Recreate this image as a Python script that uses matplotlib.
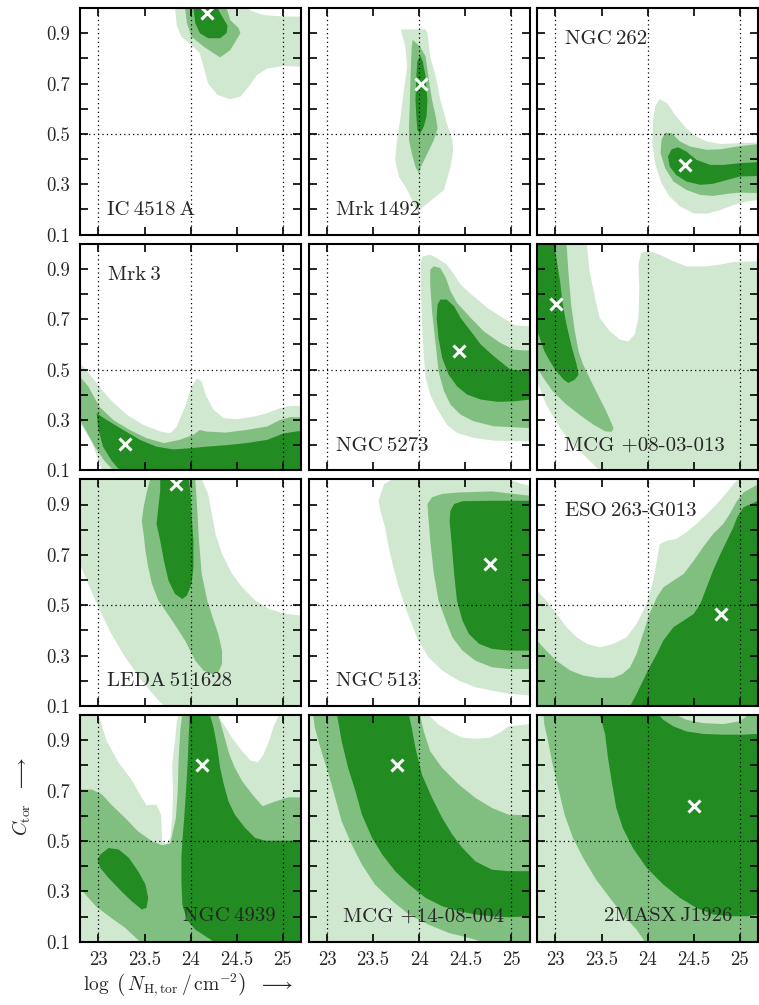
import numpy as np
import matplotlib.pyplot as plt

plt.rcParams['font.family'] = ['cmr10', 'DejaVu Serif']
plt.rcParams['mathtext.fontset'] = 'cm'
plt.rcParams['axes.unicode_minus'] = False

c_light = '#d0e7d0'
c_mid = '#80bf80'
c_dark = '#228b22'
c_text = '#262626'

# contour outlines (log NH, C_tor)
ic4518_light = [(23.83, 1.0), (23.85, 0.93), (23.90, 0.886), (24.01, 0.853), (24.10, 0.82), (24.14, 0.767),
                (24.19, 0.70), (24.29, 0.655), (24.43, 0.638), (24.54, 0.648), (24.63, 0.688), (24.72, 0.734),
                (24.83, 0.76), (25.01, 0.77), (25.2, 0.767), (25.2, 0.966), (25.01, 0.966), (24.79, 0.972),
                (24.65, 0.99), (24.61, 1.0)]
ic4518_mid = [(23.94, 1.0), (23.96, 0.94), (24.01, 0.886), (24.14, 0.847), (24.25, 0.82), (24.32, 0.804),
              (24.43, 0.833), (24.54, 0.90), (24.52, 0.92), (24.43, 0.952), (24.39, 1.0)]
ic4518_dark = [(24.03, 1.0), (24.05, 0.94), (24.10, 0.90), (24.19, 0.88), (24.32, 0.88), (24.39, 0.90),
               (24.40, 0.93), (24.32, 0.98), (24.29, 1.0)]

mrk1492_light = [(23.80, 0.915), (23.85, 0.847), (23.87, 0.767), (23.83, 0.661), (23.80, 0.569), (23.76, 0.476),
                 (23.74, 0.397), (23.78, 0.331), (23.87, 0.278), (23.94, 0.225), (23.98, 0.192), (24.05, 0.212),
                 (24.16, 0.245), (24.27, 0.278), (24.30, 0.317), (24.34, 0.37), (24.37, 0.436), (24.36, 0.476),
                 (24.30, 0.542), (24.23, 0.635), (24.18, 0.728), (24.12, 0.807), (24.09, 0.90), (24.07, 0.915)]
mrk1492_mid = [(23.93, 0.873), (24.01, 0.847), (24.07, 0.807), (24.10, 0.728), (24.14, 0.635), (24.18, 0.569),
               (24.20, 0.522), (24.16, 0.476), (24.09, 0.423), (24.02, 0.370), (24.00, 0.341), (23.96, 0.37),
               (23.92, 0.423), (23.89, 0.476), (23.89, 0.529), (23.90, 0.635), (23.91, 0.767), (23.92, 0.847)]
mrk1492_dark = [(24.01, 0.813), (24.04, 0.787), (24.07, 0.728), (24.09, 0.635), (24.08, 0.569), (24.05, 0.529),
                (24.01, 0.50), (23.98, 0.516), (23.97, 0.569), (23.96, 0.635), (23.97, 0.728), (23.98, 0.787)]

ngc262_light = [(24.08, 0.608), (24.13, 0.638), (24.21, 0.622), (24.31, 0.569), (24.42, 0.522), (24.53, 0.489),
                (24.64, 0.47), (24.79, 0.46), (24.97, 0.463), (25.2, 0.466), (25.2, 0.238), (25.07, 0.231),
                (24.93, 0.218), (24.79, 0.198), (24.64, 0.183), (24.50, 0.185), (24.35, 0.212), (24.24, 0.251),
                (24.15, 0.304), (24.08, 0.384), (24.05, 0.463), (24.06, 0.556)]
ngc262_mid = [(24.15, 0.476), (24.19, 0.505), (24.26, 0.503), (24.35, 0.47), (24.46, 0.45), (24.64, 0.437),
              (24.79, 0.439), (24.97, 0.45), (25.2, 0.46), (25.2, 0.265), (25.0, 0.267), (24.86, 0.262),
              (24.71, 0.254), (24.57, 0.258), (24.42, 0.278), (24.28, 0.311), (24.19, 0.364), (24.14, 0.423)]
ngc262_dark = [(24.22, 0.41), (24.26, 0.439), (24.33, 0.447), (24.42, 0.43), (24.53, 0.397), (24.68, 0.377),
               (24.82, 0.377), (25.0, 0.384), (25.2, 0.388), (25.2, 0.333), (25.0, 0.331), (24.86, 0.317),
               (24.71, 0.302), (24.57, 0.298), (24.42, 0.311), (24.31, 0.337), (24.24, 0.37)]

mrk3_light = [(22.8, 0.525), (22.87, 0.499), (22.98, 0.446), (23.13, 0.38), (23.31, 0.32), (23.49, 0.28),
              (23.67, 0.254), (23.78, 0.247), (23.85, 0.274), (23.94, 0.353), (24.01, 0.433), (24.07, 0.466),
              (24.12, 0.452), (24.17, 0.393), (24.25, 0.34), (24.36, 0.307), (24.50, 0.303), (24.68, 0.313),
              (24.83, 0.327), (24.97, 0.347), (25.08, 0.356), (25.2, 0.356), (25.2, 0.1), (23.04, 0.1),
              (23.0, 0.14), (22.93, 0.21), (22.85, 0.26), (22.8, 0.287)]
mrk3_mid = [(22.8, 0.472), (22.89, 0.433), (23.01, 0.353), (23.16, 0.30), (23.34, 0.26), (23.52, 0.228),
            (23.71, 0.208), (23.88, 0.221), (24.03, 0.241), (24.10, 0.26), (24.17, 0.254), (24.38, 0.25),
            (24.60, 0.26), (24.83, 0.274), (24.97, 0.30), (25.08, 0.311), (25.2, 0.311), (25.2, 0.1),
            (23.16, 0.1), (23.06, 0.14), (22.96, 0.194), (22.87, 0.254), (22.8, 0.30)]
mrk3_dark = [(22.98, 0.327), (23.09, 0.30), (23.27, 0.26), (23.45, 0.221), (23.63, 0.194), (23.81, 0.183),
             (24.00, 0.188), (24.17, 0.194), (24.39, 0.20), (24.60, 0.208), (24.83, 0.221), (25.01, 0.247),
             (25.2, 0.257), (25.2, 0.1), (23.23, 0.1), (23.14, 0.14), (23.05, 0.194), (23.0, 0.26)]

ngc5273_light = [(24.02, 0.93), (24.04, 0.95), (24.12, 0.956), (24.19, 0.943), (24.30, 0.917), (24.38, 0.877),
                 (24.45, 0.837), (24.59, 0.791), (24.74, 0.745), (24.88, 0.712), (25.03, 0.676), (25.2, 0.672),
                 (25.2, 0.216), (25.03, 0.216), (24.81, 0.218), (24.59, 0.229), (24.41, 0.249), (24.30, 0.282),
                 (24.19, 0.348), (24.12, 0.40), (24.07, 0.467), (24.05, 0.56), (24.03, 0.692), (24.02, 0.824)]
ngc5273_mid = [(24.12, 0.897), (24.16, 0.91), (24.23, 0.903), (24.29, 0.864), (24.34, 0.811), (24.41, 0.765),
               (24.56, 0.705), (24.70, 0.652), (24.88, 0.606), (25.03, 0.579), (25.2, 0.575), (25.2, 0.268),
               (25.03, 0.271), (24.81, 0.275), (24.59, 0.295), (24.45, 0.321), (24.34, 0.361), (24.27, 0.414),
               (24.21, 0.493), (24.18, 0.599), (24.14, 0.731), (24.12, 0.837)]
ngc5273_dark = [(24.20, 0.758), (24.23, 0.778), (24.30, 0.778), (24.38, 0.751), (24.45, 0.705), (24.56, 0.652),
                (24.67, 0.599), (24.81, 0.553), (24.99, 0.50), (25.2, 0.493), (25.2, 0.381), (25.03, 0.374),
                (24.85, 0.372), (24.67, 0.381), (24.52, 0.401), (24.41, 0.434), (24.32, 0.48), (24.25, 0.546),
                (24.21, 0.626), (24.19, 0.705)]

mcg08_light = [(22.8, 1.0), (23.34, 1.0), (23.37, 0.89), (23.43, 0.784), (23.48, 0.705), (23.59, 0.652),
               (23.70, 0.619), (23.79, 0.612), (23.86, 0.639), (23.90, 0.705), (23.91, 0.824), (23.90, 0.917),
               (23.93, 0.963), (24.01, 0.972), (24.13, 0.956), (24.28, 0.93), (24.42, 0.91), (24.64, 0.91),
               (24.79, 0.917), (24.93, 0.927), (25.2, 0.93), (25.2, 0.1), (23.48, 0.1), (23.34, 0.149),
               (23.19, 0.202), (23.05, 0.268), (22.90, 0.361), (22.8, 0.454)]
mcg08_mid = [(22.8, 1.0), (23.12, 1.0), (23.14, 0.89), (23.17, 0.758), (23.21, 0.652), (23.25, 0.573),
             (23.30, 0.52), (23.37, 0.467), (23.46, 0.40), (23.55, 0.335), (23.63, 0.268), (23.61, 0.253),
             (23.54, 0.255), (23.41, 0.282), (23.26, 0.321), (23.12, 0.361), (22.97, 0.414), (22.87, 0.467),
             (22.8, 0.507)]
mcg08_dark = [(22.8, 1.0), (22.99, 1.0), (23.01, 0.943), (23.05, 0.85), (23.08, 0.758), (23.12, 0.679),
              (23.17, 0.599), (23.23, 0.52), (23.25, 0.48), (23.21, 0.46), (23.14, 0.447), (23.09, 0.46),
              (23.01, 0.493), (22.94, 0.533), (22.88, 0.573), (22.83, 0.626), (22.8, 0.652)]

leda_light = [(22.8, 1.0), (24.12, 1.0), (24.19, 0.942), (24.23, 0.862), (24.27, 0.783), (24.34, 0.704),
              (24.45, 0.624), (24.56, 0.571), (24.70, 0.519), (24.85, 0.485), (25.03, 0.466), (25.2, 0.459),
              (25.2, 0.1), (23.72, 0.1), (23.65, 0.122), (23.47, 0.201), (23.29, 0.294), (23.14, 0.386),
              (23.0, 0.492), (22.89, 0.585), (22.8, 0.664)]
leda_mid = [(23.56, 1.0), (24.05, 1.0), (24.07, 0.889), (24.09, 0.757), (24.12, 0.624), (24.18, 0.519),
            (24.25, 0.439), (24.30, 0.386), (24.34, 0.32), (24.34, 0.267), (24.30, 0.234), (24.23, 0.227),
            (24.14, 0.241), (24.05, 0.28), (23.94, 0.36), (23.80, 0.439), (23.65, 0.519), (23.58, 0.585),
            (23.54, 0.651), (23.51, 0.717), (23.49, 0.783), (23.47, 0.836), (23.49, 0.889), (23.52, 0.942)]
leda_dark = [(23.67, 1.0), (23.98, 1.0), (24.0, 0.942), (24.01, 0.862), (24.03, 0.757), (24.03, 0.651),
             (24.01, 0.585), (23.96, 0.538), (23.91, 0.525), (23.83, 0.545), (23.76, 0.598), (23.71, 0.677),
             (23.67, 0.757), (23.63, 0.823), (23.65, 0.889), (23.67, 0.955)]

ngc513_light = [(23.56, 0.915), (23.62, 0.981), (23.71, 1.0), (24.97, 1.0), (25.12, 0.981), (25.2, 0.975),
                (25.2, 0.142), (24.97, 0.149), (24.79, 0.161), (24.61, 0.175), (24.43, 0.201), (24.25, 0.241),
                (24.10, 0.294), (23.99, 0.36), (23.92, 0.426), (23.85, 0.492), (23.78, 0.571), (23.72, 0.651),
                (23.67, 0.73), (23.63, 0.81), (23.58, 0.876)]
ngc513_mid = [(24.09, 0.902), (24.14, 0.929), (24.25, 0.942), (24.43, 0.948), (24.79, 0.952), (25.2, 0.935),
              (25.2, 0.247), (24.97, 0.247), (24.79, 0.254), (24.61, 0.28), (24.47, 0.32), (24.36, 0.373),
              (24.29, 0.439), (24.21, 0.519), (24.16, 0.624), (24.12, 0.757), (24.10, 0.849)]
ngc513_dark = [(24.33, 0.836), (24.34, 0.876), (24.38, 0.902), (24.47, 0.913), (24.79, 0.915), (25.2, 0.915),
               (25.2, 0.32), (24.97, 0.32), (24.79, 0.327), (24.65, 0.347), (24.54, 0.386), (24.47, 0.439),
               (24.41, 0.519), (24.38, 0.624), (24.35, 0.757)]

eso263_light = [(22.8, 0.558), (22.90, 0.519), (23.01, 0.466), (23.12, 0.413), (23.23, 0.373), (23.34, 0.347),
                (23.48, 0.333), (23.63, 0.347), (23.77, 0.373), (23.88, 0.426), (23.99, 0.505), (24.06, 0.598),
                (24.10, 0.677), (24.13, 0.743), (24.21, 0.757), (24.31, 0.763), (24.42, 0.79), (24.53, 0.823),
                (24.64, 0.862), (24.75, 0.902), (24.86, 0.948), (24.93, 0.981), (24.98, 1.0), (25.2, 1.0),
                (25.2, 0.1), (22.8, 0.1)]
eso263_mid = [(22.8, 0.36), (22.90, 0.32), (23.01, 0.28), (23.16, 0.241), (23.30, 0.221), (23.45, 0.212),
              (23.63, 0.212), (23.73, 0.228), (23.81, 0.254), (23.88, 0.307), (23.95, 0.386), (24.02, 0.466),
              (24.10, 0.532), (24.17, 0.571), (24.28, 0.598), (24.39, 0.624), (24.50, 0.677), (24.60, 0.73),
              (24.71, 0.783), (24.82, 0.823), (24.89, 0.862), (24.97, 0.915), (25.04, 0.948), (25.2, 0.981),
              (25.2, 0.1), (22.8, 0.1)]
eso263_dark = [(23.81, 0.1), (23.88, 0.148), (23.95, 0.201), (24.02, 0.254), (24.10, 0.307), (24.17, 0.36),
               (24.28, 0.413), (24.39, 0.439), (24.50, 0.466), (24.57, 0.505), (24.64, 0.571), (24.71, 0.638),
               (24.79, 0.704), (24.86, 0.757), (24.93, 0.81), (24.97, 0.849), (25.04, 0.889), (25.2, 0.915),
               (25.2, 0.1)]

full_box = [(22.8, 0.1), (25.2, 0.1), (25.2, 1.0), (22.8, 1.0)]

ngc4939_hole1 = [(23.0, 1.0), (23.09, 0.896), (23.22, 0.81), (23.36, 0.743), (23.45, 0.684), (23.52, 0.642),
                 (23.63, 0.644), (23.68, 0.604), (23.69, 0.499), (23.73, 0.488), (23.78, 0.512), (23.80, 0.591),
                 (23.81, 0.697), (23.80, 0.803), (23.83, 0.896), (23.85, 0.975), (23.87, 1.0)]
ngc4939_hole2 = [(24.29, 1.0), (24.36, 0.962), (24.45, 0.909), (24.56, 0.856), (24.65, 0.819), (24.73, 0.813),
                 (24.79, 0.843), (24.85, 0.896), (24.90, 0.955), (24.96, 1.0)]
ngc4939_mid = [(22.8, 0.704), (22.93, 0.704), (23.04, 0.684), (23.14, 0.644), (23.29, 0.591), (23.43, 0.538),
               (23.58, 0.499), (23.69, 0.483), (23.78, 0.49), (23.84, 0.591), (23.86, 0.697), (23.87, 0.829),
               (23.89, 0.948), (23.91, 1.0), (24.30, 1.0), (24.34, 0.948), (24.38, 0.896), (24.42, 0.843),
               (24.48, 0.79), (24.56, 0.737), (24.67, 0.684), (24.78, 0.638), (24.92, 0.657), (25.06, 0.673),
               (25.2, 0.673), (25.2, 0.1), (23.45, 0.1), (23.29, 0.155), (23.14, 0.194), (22.98, 0.238),
               (22.89, 0.274), (22.8, 0.313)]
ngc4939_dark = [(23.99, 1.0), (24.21, 1.0), (24.25, 0.948), (24.29, 0.869), (24.32, 0.79), (24.36, 0.724),
                (24.41, 0.657), (24.48, 0.604), (24.59, 0.552), (24.70, 0.512), (24.81, 0.501), (25.2, 0.501),
                (25.2, 0.1), (24.25, 0.1), (24.16, 0.122), (24.05, 0.148), (23.96, 0.188), (23.91, 0.247),
                (23.90, 0.34), (23.90, 0.433), (23.91, 0.499), (23.93, 0.591), (23.95, 0.697), (23.97, 0.829),
                (23.98, 0.922)]
ngc4939_blob = [(22.99, 0.426), (23.02, 0.446), (23.11, 0.472), (23.22, 0.466), (23.33, 0.433), (23.43, 0.38),
                (23.51, 0.327), (23.54, 0.274), (23.52, 0.234), (23.47, 0.228), (23.36, 0.261), (23.25, 0.30),
                (23.11, 0.353), (23.02, 0.393)]

mcg14_hole = [(24.10, 1.0), (24.21, 0.962), (24.36, 0.929), (24.47, 0.909), (24.61, 0.906), (24.76, 0.909),
              (24.87, 0.929), (24.97, 0.955), (25.2, 0.964), (25.2, 1.0)]
mcg14_mid = [(22.85, 1.0), (22.87, 0.948), (22.94, 0.856), (23.02, 0.763), (23.09, 0.671), (23.16, 0.578),
             (23.27, 0.485), (23.38, 0.406), (23.52, 0.327), (23.71, 0.261), (23.89, 0.208), (24.10, 0.168),
             (24.32, 0.135), (24.54, 0.115), (24.68, 0.1), (25.2, 0.1), (25.2, 0.602), (24.97, 0.604),
             (24.79, 0.631), (24.61, 0.671), (24.43, 0.724), (24.25, 0.79), (24.12, 0.856), (24.05, 0.935),
             (24.01, 1.0)]
mcg14_dark = [(23.11, 1.0), (23.89, 1.0), (23.92, 0.948), (23.96, 0.869), (24.03, 0.763), (24.14, 0.671),
              (24.25, 0.591), (24.36, 0.525), (24.47, 0.472), (24.61, 0.419), (24.79, 0.386), (24.97, 0.38),
              (25.2, 0.38), (25.2, 0.201), (24.97, 0.197), (24.79, 0.201), (24.61, 0.208), (24.43, 0.221),
              (24.25, 0.241), (24.07, 0.274), (23.89, 0.327), (23.74, 0.38), (23.60, 0.446), (23.49, 0.512),
              (23.38, 0.604), (23.31, 0.697), (23.23, 0.79), (23.16, 0.896)]

j1926_mid = [(22.87, 1.0), (24.31, 1.0), (24.42, 0.981), (24.60, 0.968), (24.82, 0.964), (25.0, 0.975),
             (25.09, 1.0), (25.2, 1.0), (25.2, 0.1), (23.97, 0.1), (23.88, 0.148), (23.73, 0.208),
             (23.59, 0.274), (23.44, 0.347), (23.30, 0.433), (23.19, 0.512), (23.10, 0.604), (23.03, 0.71),
             (22.97, 0.803), (22.92, 0.896), (22.88, 0.962)]
j1926_dark = [(23.48, 1.0), (24.12, 1.0), (24.17, 0.981), (24.28, 0.955), (24.42, 0.935), (24.60, 0.925),
              (24.82, 0.922), (25.04, 0.922), (25.2, 0.925), (25.2, 0.208), (25.08, 0.201), (24.89, 0.201),
              (24.71, 0.208), (24.53, 0.234), (24.35, 0.274), (24.17, 0.327), (23.99, 0.393), (23.84, 0.472),
              (23.73, 0.552), (23.66, 0.631), (23.61, 0.737), (23.57, 0.829), (23.54, 0.922), (23.50, 0.975)]

ts = '\u2009'
names = ['IC' + ts + '4518' + ts + 'A', 'Mrk' + ts + '1492', 'NGC' + ts + '262',
         'Mrk' + ts + '3', 'NGC' + ts + '5273', 'MCG +08-03-013',
         'LEDA' + ts + '511628', 'NGC' + ts + '513', 'ESO' + ts + '263-G013',
         'NGC' + ts + '4939', 'MCG +14-08-004', '2MASX' + ts + 'J1926']
best_x = [24.18, 24.02, 24.41, 23.29, 24.43, 23.01, 23.84, 24.77, 24.80, 24.12, 23.76, 24.50]
best_y = [0.98, 0.70, 0.375, 0.205, 0.575, 0.76, 0.98, 0.665, 0.465, 0.80, 0.80, 0.64]
label_pos = ['bl', 'bl', 'tl', 'tl', 'bl', 'bl', 'bl', 'bl', 'tl', 'br', 'br', 'br']

layers = [
    [(c_light, ic4518_light), (c_mid, ic4518_mid), (c_dark, ic4518_dark)],
    [(c_light, mrk1492_light), (c_mid, mrk1492_mid), (c_dark, mrk1492_dark)],
    [(c_light, ngc262_light), (c_mid, ngc262_mid), (c_dark, ngc262_dark)],
    [(c_light, mrk3_light), (c_mid, mrk3_mid), (c_dark, mrk3_dark)],
    [(c_light, ngc5273_light), (c_mid, ngc5273_mid), (c_dark, ngc5273_dark)],
    [(c_light, mcg08_light), (c_mid, mcg08_mid), (c_dark, mcg08_dark)],
    [(c_light, leda_light), (c_mid, leda_mid), (c_dark, leda_dark)],
    [(c_light, ngc513_light), (c_mid, ngc513_mid), (c_dark, ngc513_dark)],
    [(c_light, eso263_light), (c_mid, eso263_mid), (c_dark, eso263_dark)],
    [(c_light, full_box), ('white', ngc4939_hole1), ('white', ngc4939_hole2), (c_mid, ngc4939_mid),
     (c_dark, ngc4939_dark), (c_dark, ngc4939_blob)],
    [(c_light, full_box), ('white', mcg14_hole), (c_mid, mcg14_mid), (c_dark, mcg14_dark)],
    [(c_light, full_box), (c_mid, j1926_mid), (c_dark, j1926_dark)],
]

fig, axes = plt.subplots(4, 3, figsize=(7.59, 10.05), dpi=100, sharex=True, sharey=True)
fig.subplots_adjust(left=80/759, right=758.3/759, top=1-8/1005, bottom=1-941.7/1005,
                    wspace=7.2/221, hspace=9/226.7)

for i, ax in enumerate(axes.flat):
    for col, poly in layers[i]:
        p = np.array(poly)
        ax.fill(p[:, 0], p[:, 1], color=col, lw=0, zorder=1)
    for gx in [23, 24, 25]:
        ax.axvline(gx, color='k', ls=(0, (1, 2.5)), lw=0.9, zorder=2)
    ax.axhline(0.5, color='k', ls=(0, (1, 2.5)), lw=0.9, zorder=2)
    ax.plot(best_x[i], best_y[i], 'x', color='white', ms=8, mew=2.2, zorder=3)

    pos = label_pos[i]
    if pos == 'bl':
        ax.text(0.122, 0.087, names[i], transform=ax.transAxes, fontsize=15, color=c_text, va='baseline')
    elif pos == 'tl':
        ax.text(0.125, 0.84, names[i], transform=ax.transAxes, fontsize=15, color=c_text, va='baseline')
    else:
        ax.text(0.882, 0.09, names[i], transform=ax.transAxes, fontsize=15, color=c_text,
                va='baseline', ha='right', zorder=4)

    ax.set_xlim(22.8, 25.2)
    ax.set_ylim(0.1, 1.0)
    ax.set_xticks([23, 23.5, 24, 24.5, 25])
    ax.set_xticklabels(['23', '23.5', '24', '24.5', '25'])
    ax.set_yticks([0.1, 0.3, 0.5, 0.7, 0.9])
    ax.set_yticklabels(['0.1', '0.3', '0.5', '0.7', '0.9'])
    ax.set_yticks([0.2, 0.4, 0.6, 0.8], minor=True)
    ax.tick_params(which='both', direction='in', top=True, right=True, length=6, width=1.2,
                   labelsize=13.5, labelcolor=c_text, pad=7)
    for s in ax.spines.values():
        s.set_linewidth(1.5)
        s.set_zorder(5)

fig.text(22/759, 1-797/1005, r'$C_{\rm tor}\ \ \longrightarrow$', rotation=90,
         ha='center', va='center', fontsize=14, color=c_text)
fig.text(188/759, 1-985/1005, r'$\log\ \left(\,N_{\rm H,tor}\,/\,{\rm cm}^{-2}\right)\ \ \longrightarrow$',
         ha='center', va='center', fontsize=14, color=c_text)

fig.savefig('out.png', dpi=100)
